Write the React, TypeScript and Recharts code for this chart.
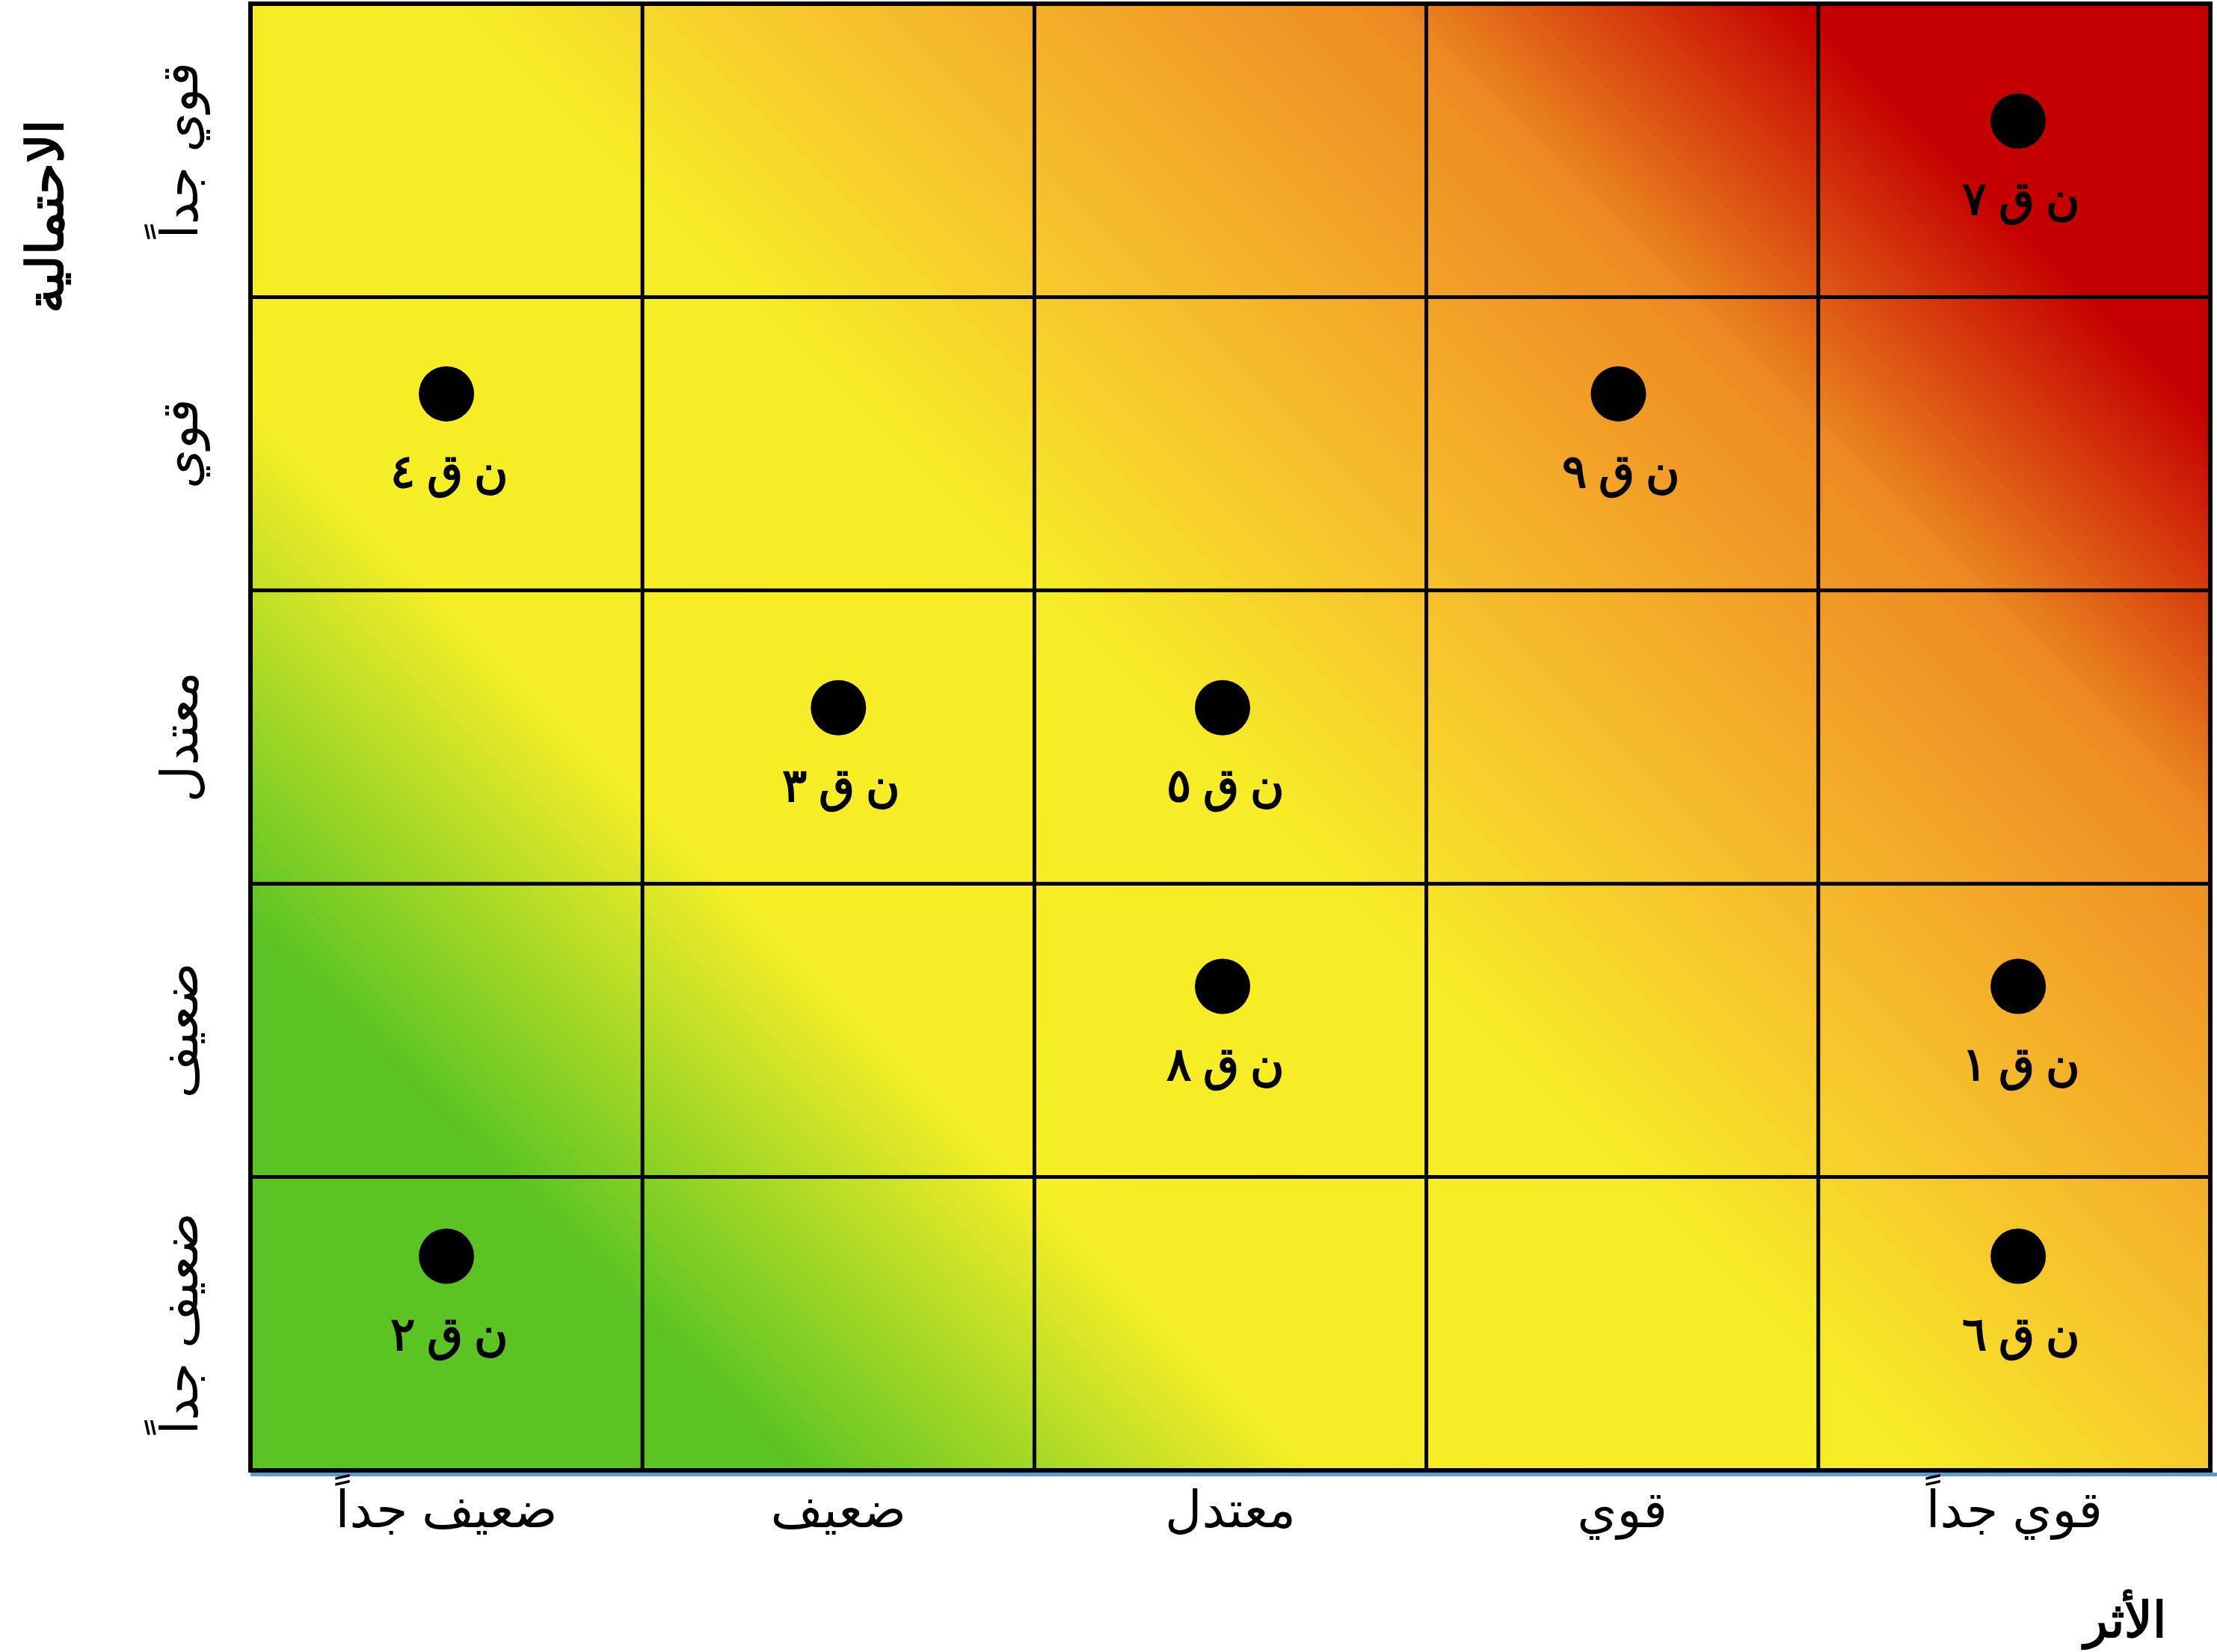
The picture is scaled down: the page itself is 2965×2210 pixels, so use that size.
import React from "react"
import {
  ScatterChart,
  Scatter,
  XAxis,
  YAxis,
  ReferenceArea,
  ReferenceLine,
} from "recharts"

// levels shared by both axes (bottom -> top, left -> right)
const LEVELS = ["ضعيف جداً", "ضعيف", "معتدل", "قوي", "قوي جداً"]
const LEVEL_TICKS = [0.5, 1.5, 2.5, 3.5, 4.5]
const CELL_BOUNDS = [1, 2, 3, 4]

const X_TITLE = "الأثر"
const Y_TITLE = "الاحتمالية"

// risks: id, impact (x), likelihood (y)
const RISK_IDS = ["ن ق ١", "ن ق ٢", "ن ق ٣", "ن ق ٤", "ن ق ٥", "ن ق ٦", "ن ق ٧", "ن ق ٨", "ن ق ٩"]
const RISK_IMPACT = [4.51, 0.5, 1.5, 0.5, 2.48, 4.51, 4.51, 2.48, 3.49]
const RISK_LIKELIHOOD = [1.65, 0.73, 2.6, 3.67, 2.6, 0.73, 4.6, 1.65, 3.67]

const risks = RISK_IDS.map((id, i) => ({ id, x: RISK_IMPACT[i], y: RISK_LIKELIHOOD[i] }))

// layout
const W = 2965
const H = 2210
const Y_AXIS_W = 150
const X_AXIS_H = 150
const MARGIN = { top: 5, right: 9, left: 185, bottom: 93 }
const PLOT_LEFT = MARGIN.left + Y_AXIS_W
const PLOT_TOP = MARGIN.top
const PLOT_RIGHT = W - MARGIN.right
const PLOT_BOTTOM = H - MARGIN.bottom - X_AXIS_H
const DIAG = (PLOT_RIGHT - PLOT_LEFT + PLOT_BOTTOM - PLOT_TOP) / 2

const TICK_FONT = "'Liberation Sans', 'DejaVu Sans', sans-serif"
const LABEL_FONT = "'Liberation Serif', serif"

const GRADIENT_STOPS = [
  { offset: 0, color: "#5bc423" },
  { offset: 0.16, color: "#5bc423" },
  { offset: 0.31, color: "#f6ee27" },
  { offset: 0.49, color: "#f6ec27" },
  { offset: 0.58, color: "#f6c82c" },
  { offset: 0.68, color: "#f3a528" },
  { offset: 0.76, color: "#ec8a21" },
  { offset: 0.82, color: "#d8440f" },
  { offset: 0.88, color: "#c40000" },
  { offset: 1, color: "#c40000" },
]

const XTick = ({ x, payload }: any) => (
  <text
    x={x}
    y={PLOT_BOTTOM + 52}
    textAnchor="middle"
    dominantBaseline="central"
    fontSize={68}
    fontFamily={TICK_FONT}
    fill="#000"
  >
    {LEVELS[LEVEL_TICKS.indexOf(payload.value)]}
  </text>
)

const YTick = ({ y, payload }: any) => {
  const cx = PLOT_LEFT - 95
  return (
    <text
      x={cx}
      y={y}
      textAnchor="middle"
      dominantBaseline="central"
      fontSize={68}
      fontFamily={TICK_FONT}
      fill="#000"
      transform={`rotate(-90, ${cx}, ${y})`}
    >
      {LEVELS[LEVEL_TICKS.indexOf(payload.value)]}
    </text>
  )
}

const RiskDot = ({ cx, cy, payload }: any) => (
  <g>
    <circle cx={cx} cy={cy} r={37} fill="#000" />
    <text
      x={cx + 4}
      y={cy + 104}
      textAnchor="middle"
      dominantBaseline="central"
      fontSize={62}
      fontWeight="bold"
      fontFamily={LABEL_FONT}
      fill="#000"
    >
      {payload.id}
    </text>
  </g>
)

export default function App() {
  return (
    <div style={{ position: "absolute", left: 0, top: 0, width: W, height: H, background: "#fff" }}>
      <ScatterChart width={W} height={H} margin={MARGIN}>
        <defs>
          <linearGradient
            id="riskGrad"
            gradientUnits="userSpaceOnUse"
            x1={PLOT_LEFT}
            y1={PLOT_BOTTOM}
            x2={PLOT_LEFT + DIAG}
            y2={PLOT_BOTTOM - DIAG}
          >
            {GRADIENT_STOPS.map((s) => (
              <stop key={s.offset} offset={s.offset} stopColor={s.color} />
            ))}
          </linearGradient>
        </defs>
        <XAxis
          type="number"
          dataKey="x"
          domain={[0, 5]}
          ticks={LEVEL_TICKS}
          height={X_AXIS_H}
          axisLine={false}
          tickLine={false}
          tick={<XTick />}
          interval={0}
          allowDataOverflow
          label={{
            content: () => (
              <text
                x={PLOT_RIGHT - 114}
                y={PLOT_BOTTOM + 200}
                textAnchor="middle"
                dominantBaseline="central"
                fontSize={66}
                fontWeight="bold"
                fontFamily={LABEL_FONT}
                fill="#000"
              >
                {X_TITLE}
              </text>
            ),
          }}
        />
        <YAxis
          type="number"
          dataKey="y"
          domain={[0, 5]}
          ticks={LEVEL_TICKS}
          width={Y_AXIS_W}
          axisLine={false}
          tickLine={false}
          tick={<YTick />}
          interval={0}
          allowDataOverflow
          label={{
            content: () => (
              <text
                x={61}
                y={289}
                textAnchor="middle"
                dominantBaseline="central"
                fontSize={68}
                fontWeight="bold"
                fontFamily={LABEL_FONT}
                fill="#000"
                transform="rotate(-90, 61, 289)"
              >
                {Y_TITLE}
              </text>
            ),
          }}
        />
        <ReferenceArea x1={0} x2={5} y1={0} y2={5} fill="url(#riskGrad)" fillOpacity={1} stroke="none" />
        {CELL_BOUNDS.map((b) => (
          <ReferenceLine key={`v${b}`} x={b} stroke="#000" strokeWidth={5} />
        ))}
        {CELL_BOUNDS.map((b) => (
          <ReferenceLine key={`h${b}`} y={b} stroke="#000" strokeWidth={5} />
        ))}
        <ReferenceLine
          segment={[{ x: 0, y: -0.014 }, { x: 5.02, y: -0.014 }]}
          stroke="#5b9bd5"
          strokeWidth={5}
          ifOverflow="visible"
        />
        <ReferenceArea x1={0} x2={5} y1={0} y2={5} fill="none" stroke="#000" strokeWidth={6} />
        <Scatter data={risks} shape={<RiskDot />} isAnimationActive={false} />
      </ScatterChart>
    </div>
  )
}
